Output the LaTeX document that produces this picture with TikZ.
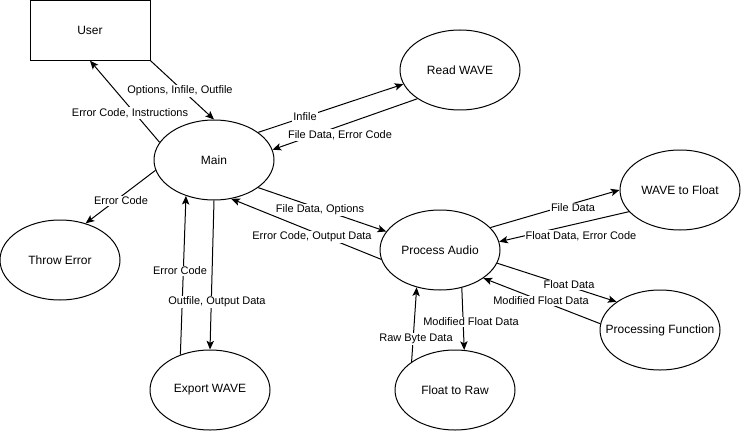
\documentclass[tikz,border=0pt]{standalone}
\usepackage{fontspec}
\setmainfont{Liberation Sans}
\usetikzlibrary{shapes.geometric,arrows.meta}

\tikzset{every picture/.style={line width=0.75pt}}
\newcommand{\proctext}[1]{\makebox[0pt]{\raisebox{-0.75pt}{#1}}}

\begin{document}
\begin{tikzpicture}[x=0.75pt,y=0.75pt,yscale=-1,xscale=1,
    proc/.style={draw, ellipse, minimum width=90pt, minimum height=60pt, inner sep=0pt, font=\fontsize{9}{11}\selectfont},
    ent/.style={draw, rectangle, minimum width=90pt, minimum height=44.5pt, inner sep=0pt, font=\fontsize{9}{11}\selectfont},
    flow/.style={-{Stealth[length=6.5pt,width=5.5pt,inset=1.5pt]}},
    lbl/.style={fill=white, inner sep=0.8pt, font=\fontsize{8.25}{10}\selectfont}]
    \useasboundingbox (0,0) rectangle (741,431);

    %Shape: Rectangle
    \node[ent] (user) at (90,30.5) {\proctext{User}};
    %Shape: Ellipse
    \node[proc] (main) at (214,160) {\proctext{Main}};
    \node[proc] (readwave) at (460,70) {\proctext{Read WAVE}};
    \node[proc] (throwerr) at (60,260) {\proctext{Throw Error}};
    \node[proc] (export) at (210,390) {\proctext{Export WAVE}};
    \node[proc] (process) at (440,250) {\proctext{Process Audio}};
    \node[proc] (wave2float) at (680,190) {\proctext{WAVE to Float}};
    \node[proc] (procfn) at (660,330) {\proctext{Processing Function}};
    \node[proc] (float2raw) at (455,390) {\proctext{Float to Raw}};

    %Straight Lines
    \draw[flow] (main.162) -- (user.south);
    \draw[flow] (user.south east) -- (main.north);
    \draw[flow] (main.32) -- (readwave.194);
    \draw[flow] (readwave.214) -- (main.10);
    \draw[flow] (main.190) -- (throwerr.55);
    \draw[flow] (main.328) -- (process.161);
    \draw[flow] (process.189) -- (main.294);
    \draw[flow] (export.130) -- (main.232);
    \draw[flow] (main.south) -- (export.north);
    \draw[flow] (process.24) -- (wave2float.west);
    \draw[flow] (wave2float.203) -- (process.8);
    \draw[flow] (process.347) -- (procfn.147);
    \draw[flow] (procfn.174) -- (process.327);
    \draw[flow] (process.300) -- (float2raw.77);
    \draw[flow] (float2raw.147) -- (process.238);

    %Edge labels
    \node[lbl] (lblErrInstr) at (130,113) {Error Code, Instructions};
    \node[lbl] (lblOptions) at (180,91) {Options, Infile, Outfile};
    \node[lbl] (lblInfile) at (305,117) {Infile};
    \node[lbl] (lblFileErr) at (340,135) {File Data, Error Code};
    \node[lbl] (lblErrThrow) at (121,201) {Error Code};
    \node[lbl] (lblFileOpt) at (320,210) {File Data, Options};
    \node[lbl] (lblErrOut) at (312,237) {Error Code, Output Data};
    \node[lbl] (lblErrExport) at (180,271) {Error Code};
    \node[lbl] (lblOutfile) at (217,302) {Outfile, Output Data};
    \node[lbl] (lblFileData) at (573,208) {File Data};
    \node[lbl] (lblFloatErr) at (581,236) {Float Data, Error Code};
    \node[lbl] (lblFloatData) at (569,285) {Float Data};
    \node[lbl] (lblModFn) at (541,301) {Modified Float Data};
    \node[lbl] (lblModRaw) at (471,322) {Modified Float Data};
    \node[lbl] (lblRawByte) at (416,339) {Raw Byte Data};

\end{tikzpicture}
\end{document}
